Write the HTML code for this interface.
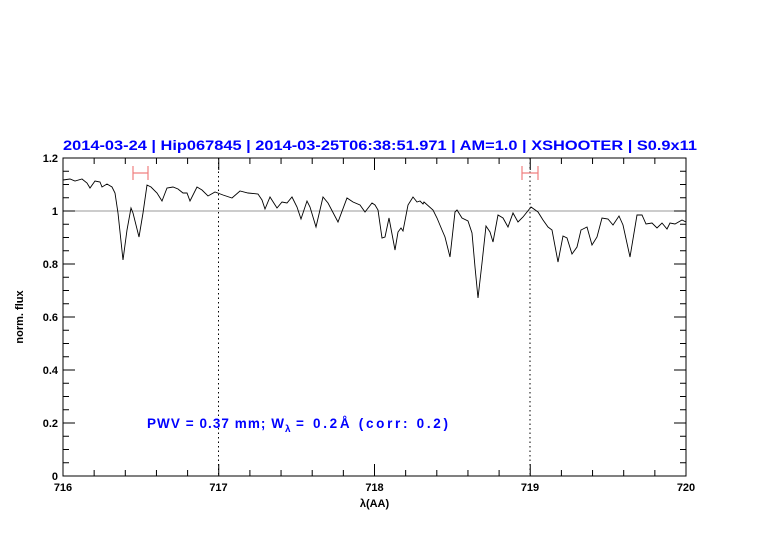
<!DOCTYPE html>
<html><head><style>body{margin:0;background:#fff}svg{display:block}</style></head><body>
<svg width="782" height="542" xmlns="http://www.w3.org/2000/svg" font-family="Liberation Sans, sans-serif">
<rect width="782" height="542" fill="#fff"/>
<text x="63" y="150" fill="#0000ff" font-size="13.5" font-weight="bold" font-family="Liberation Sans, sans-serif" textLength="634" lengthAdjust="spacingAndGlyphs">2014-03-24 | Hip067845 | 2014-03-25T06:38:51.971 | AM=1.0 | XSHOOTER | S0.9x11</text>
<line x1="63" y1="211" x2="686" y2="211" stroke="#999" stroke-width="1"/>
<line x1="218.5" y1="158" x2="218.5" y2="476" stroke="#000" stroke-dasharray="1.5,3"/>
<line x1="530" y1="158" x2="530" y2="476" stroke="#000" stroke-dasharray="1.5,3"/>
<g stroke="#f08080" stroke-width="1.2" fill="none">
<path d="M133,173H148M133,166V180M148,166V180"/>
<path d="M522,173H538M522,166V180M538,166V180"/>
</g>
<g id="ticks" stroke="#000" stroke-width="1" fill="none">
<rect x="63" y="158" width="623" height="318"/>
<path id="tx" d=""/>
</g>
<polyline fill="none" stroke="#000" stroke-width="0.9" points="63,180 70,179 75,181 82,179 87,183 90,188 95,181 100,182 102,187 107,184 112,187 115,193 118,213 123,260 127,230 131,208 133,213 139,237 143,213 147,185 151,187 157,193 162,201 167,188 173,187 178,189 183,193 187,193 190,201 197,187 202,190 208,196 215,192 223,195 232,198 240,191 248,193 258,194 262,200 265,209 270,197 277,208 282,202 287,203 292,197 297,207 301,219 307,201 310,207 316,227 323,197 328,203 338,222 347,198 353,202 360,205 365,212 372,203 375,205 378,210 382,238 385,237 389,218 395,250 398,232 401,228 403,231 408,205 413,197 417,202 420,201 423,204 424,202 433,210 437,218 442,230 445,237 450,257 455,212 457,210 462,218 468,221 472,233 475,267 478,298 482,263 486,226 490,232 493,242 498,215 503,218 508,227 513,213 518,222 523,217 531,207 538,212 543,220 548,227 552,230 558,262 563,236 567,238 572,254 577,247 581,230 587,227 592,245 597,237 602,218 608,219 613,225 619,216 623,225 630,257 637,215 642,215 646,224 652,223 657,228 662,223 667,229 670,223 675,224 682,220 686,222"/>
<g font-size="11" text-anchor="middle" fill="#000" font-weight="bold">
<text x="63" y="491">716</text><text x="218.5" y="491">717</text><text x="374.5" y="491">718</text><text x="530" y="491">719</text><text x="686" y="491">720</text>
<text x="374.5" y="507">λ(AA)</text>
</g>
<g font-size="11" text-anchor="end" fill="#000" font-weight="bold">
<text x="58" y="480">0</text><text x="58" y="427">0.2</text><text x="58" y="374">0.4</text><text x="58" y="321">0.6</text><text x="58" y="268">0.8</text><text x="58" y="215">1</text><text x="58" y="162">1.2</text>
</g>
<text transform="translate(23,317) rotate(-90)" font-size="11" font-weight="bold" text-anchor="middle">norm. flux</text>
<g fill="#0000ff" font-size="13.5" font-weight="bold">
<text x="147" y="428" textLength="137" lengthAdjust="spacing">PWV = 0.37 mm; W</text>
<text x="285" y="432" font-size="10">λ</text>
<text x="296" y="428" textLength="152" lengthAdjust="spacing">= 0.2Å (corr: 0.2)</text>
</g>
<script>
var d="";
for(var i=0;i<=20;i++){var x=63+i*31.15;var L=(i%5==0)?12:6;d+="M"+x+",476v-"+L+"M"+x+",158v"+L;}
for(var j=0;j<=24;j++){var y=476-j*13.25;var L=(j%4==0)?12:6;d+="M63,"+y+"h"+L+"M686,"+y+"h-"+L;}
document.getElementById("tx").setAttribute("d",d);
</script>
</svg>
</body></html>
